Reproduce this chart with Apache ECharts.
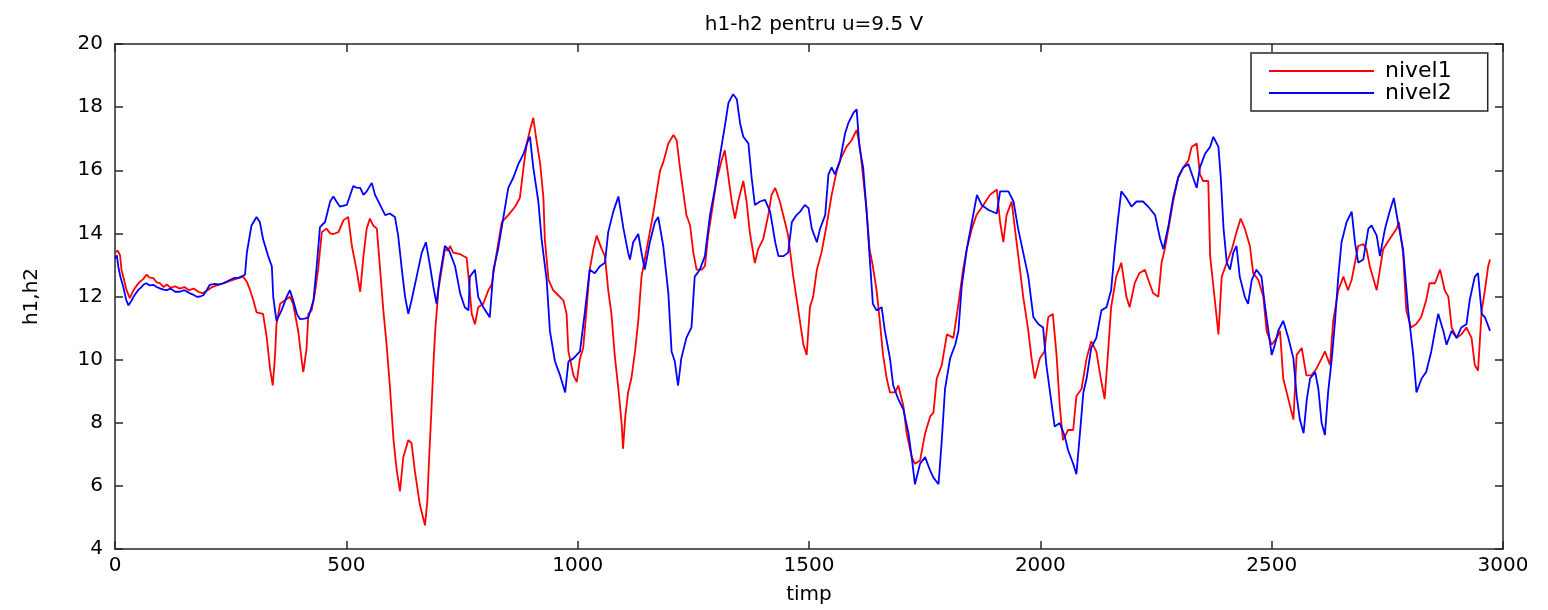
<!DOCTYPE html>
<html>
<head>
<meta charset="utf-8">
<script src="https://cdn.jsdelivr.net/npm/echarts@6/dist/echarts.min.js"></script>
<style>
html,body{margin:0;padding:0;background:#fff;}
#chart{width:1548px;height:610px;}
</style>
</head>
<body>
<div id="chart"></div>
<script>
const titleText = 'h1-h2 pentru u=9.5 V';
const xName = 'timp';
const yName = 'h1,h2';
const seriesNames = ['nivel1', 'nivel2'];
const xTicks = {min: 0, max: 3000, interval: 500};
const yTicks = {min: 4, max: 20, interval: 2};

const nivel1 = [
[0,13.4],[6,13.45],[11,13.3],[14,12.85],[20,12.5],[25,12.2],[32,11.95],[40,12.2],[47,12.35],[54,12.47],[61,12.55],[68,12.69],[75,12.6],[83,12.58],[90,12.45],[97,12.42],[105,12.3],[112,12.38],[120,12.28],[130,12.32],[140,12.25],[150,12.3],[160,12.2],[170,12.25],[180,12.15],[190,12.1],[200,12.2],[210,12.3],[220,12.35],[230,12.4],[240,12.45],[250,12.5],[260,12.55],[270,12.6],[277,12.63],[285,12.47],[292,12.2],[299,11.88],[306,11.5],[320,11.45],[328,10.7],[335,9.72],[341,9.18],[346,10.15],[349,11.12],[357,11.77],[367,11.88],[378,11.99],[385,11.77],[396,10.9],[403,10.04],[407,9.6],[414,10.35],[418,11.45],[425,11.56],[432,12.1],[439,12.85],[447,14.04],[457,14.15],[465,14.0],[472,13.98],[483,14.04],[494,14.42],[504,14.52],[512,13.6],[522,12.85],[530,12.15],[537,13.28],[544,14.15],[551,14.47],[558,14.25],[566,14.15],[573,12.85],[580,11.56],[587,10.47],[594,9.18],[602,7.45],[609,6.48],[616,5.83],[623,6.9],[634,7.45],[641,7.35],[648,6.48],[659,5.4],[670,4.75],[675,5.5],[679,6.9],[684,8.42],[688,9.77],[692,10.9],[699,12.2],[706,12.85],[713,13.5],[720,13.45],
[724,13.6],[731,13.39],[746,13.34],[760,13.23],[764,12.63],[771,11.45],[778,11.12],[785,11.66],[796,11.77],[807,12.2],[814,12.37],[825,13.39],[836,14.36],[850,14.58],[865,14.85],[875,15.12],[883,16.09],[890,16.85],[897,17.28],[904,17.66],[911,16.95],[919,16.2],[926,15.12],[929,13.82],[937,12.53],[947,12.2],[958,12.04],[969,11.88],[976,11.45],[980,10.26],[991,9.5],[998,9.29],[1005,10.04],[1012,10.37],[1019,11.56],[1026,12.85],[1034,13.5],[1041,13.93],[1052,13.5],[1059,13.28],[1066,12.2],[1073,11.45],[1080,10.15],[1088,9.07],[1095,7.99],[1098,7.18],[1103,8.2],[1109,8.96],[1116,9.4],[1124,10.26],[1131,11.23],[1138,12.63],[1149,13.5],[1156,14.04],[1164,14.69],[1171,15.33],[1178,15.98],[1185,16.25],[1196,16.85],[1207,17.12],[1214,16.95],[1221,16.09],[1228,15.33],[1235,14.58],[1243,14.25],[1250,13.39],[1257,12.85],[1268,12.85],[1275,12.96],[1282,13.93],[1290,14.69],[1300,15.66],[1311,16.31],[1318,16.63],[1326,15.77],[1333,15.01],[1340,14.47],[1347,15.01],[1358,15.66],[1365,15.01],[1372,14.04],[1383,13.06],[1390,13.5],[1401,13.82],[1412,14.58],[1419,15.22],[1427,15.44],[1437,15.01],[1448,14.36],[1455,13.93],[1466,12.63],[1477,11.56],
[1488,10.47],[1495,10.15],[1502,11.66],[1509,11.99],[1517,12.85],[1527,13.39],[1538,14.25],[1549,15.22],[1560,15.98],[1570,16.41],[1581,16.74],[1592,16.95],[1603,17.28],[1610,16.74],[1617,15.77],[1624,14.8],[1631,13.5],[1638,12.96],[1646,12.2],[1653,11.23],[1660,10.15],[1668,9.4],[1675,8.96],[1686,8.96],[1693,9.18],[1704,8.53],[1711,7.67],[1722,6.91],[1729,6.7],[1740,6.8],[1751,7.67],[1762,8.2],[1769,8.32],[1776,9.4],[1787,9.83],[1798,10.8],[1812,10.69],[1823,11.77],[1833,12.85],[1841,13.5],[1852,14.15],[1862,14.58],[1877,14.9],[1891,15.22],[1906,15.39],[1913,14.36],[1920,13.72],[1927,14.58],[1938,15.01],[1945,14.15],[1956,12.85],[1963,11.99],[1974,10.91],[1981,10.04],[1988,9.4],[1999,10.04],[2009,10.26],[2017,11.34],[2027,11.45],[2035,10.15],[2042,8.53],[2049,7.45],[2060,7.77],[2071,7.77],[2078,8.85],[2089,9.07],[2100,10.04],[2110,10.58],[2121,10.26],[2132,9.29],[2139,8.75],[2146,10.15],[2153,11.66],[2164,12.63],[2175,13.07],[2186,11.99],[2193,11.66],[2204,12.42],[2214,12.74],[2226,12.85],[2236,12.42],
[2244,12.1],[2255,11.99],[2262,13.07],[2269,13.5],[2277,14.15],[2287,15.01],[2298,15.77],[2309,16.09],[2320,16.31],[2327,16.74],[2338,16.85],[2345,15.87],[2352,15.66],[2363,15.66],[2367,13.28],[2378,11.77],[2385,10.8],[2392,12.63],[2403,13.07],[2414,13.5],[2424,14.04],[2433,14.47],[2442,14.15],[2453,13.6],[2460,12.74],[2471,12.53],[2482,11.99],[2489,10.91],[2500,10.47],[2511,10.69],[2518,10.91],[2525,9.4],[2536,8.75],[2547,8.1],[2554,10.15],[2565,10.37],[2575,9.5],[2586,9.5],[2597,9.72],[2608,10.04],[2615,10.26],[2626,9.83],[2633,11.23],[2644,12.2],[2655,12.63],[2665,12.2],[2673,12.53],[2680,13.07],[2687,13.6],[2698,13.66],[2705,13.5],[2712,12.96],[2727,12.2],[2734,12.85],[2741,13.5],[2755,13.82],[2770,14.15],[2775,14.36],[2784,13.39],[2791,11.56],[2801,11.02],[2812,11.12],[2823,11.34],[2834,11.88],[2841,12.42],[2853,12.42],[2864,12.85],[2874,12.2],[2882,11.99],[2889,11.02],[2900,10.69],[2910,10.8],[2921,11.02],[2932,10.69],[2939,9.83],[2946,9.65],[2954,11.56],[2961,12.2],[2968,12.96],[2972,13.17]
];

const nivel2 = [
[0,13.2],[4,13.3],[7,12.96],[12,12.6],[18,12.3],[24,11.9],[29,11.72],[35,11.85],[40,11.99],[45,12.1],[50,12.2],[57,12.3],[62,12.38],[68,12.42],[75,12.35],[83,12.37],[90,12.3],[97,12.26],[105,12.22],[112,12.2],[120,12.25],[130,12.15],[140,12.15],[150,12.2],[162,12.1],[170,12.05],[177,11.99],[184,12.0],[191,12.04],[198,12.2],[205,12.37],[215,12.4],[225,12.38],[234,12.42],[245,12.5],[256,12.58],[268,12.6],[281,12.69],[285,13.39],[295,14.25],[306,14.52],[313,14.36],[320,13.82],[331,13.28],[339,12.96],[342,11.99],[349,11.23],[360,11.56],[371,11.99],[378,12.2],[385,11.88],[393,11.45],[400,11.28],[410,11.3],[418,11.34],[429,11.88],[436,12.96],[443,14.2],[454,14.36],[465,15.01],[472,15.17],[479,15.0],[486,14.85],[501,14.9],[508,15.2],[515,15.5],[522,15.45],[530,15.44],[537,15.22],[544,15.33],[555,15.6],[562,15.22],[573,14.9],[584,14.58],[594,14.63],[605,14.52],[612,13.93],[620,12.85],[627,11.99],[634,11.45],[641,11.88],[652,12.63],[663,13.39],[672,13.72],[681,12.96],[688,12.31],[695,11.77],[702,12.63],[713,13.6],[720,13.5],
[724,13.39],[735,12.96],[746,12.1],[756,11.66],[764,11.56],[767,12.63],[778,12.85],[785,11.99],[796,11.66],[810,11.34],[818,12.85],[828,13.5],[839,14.47],[850,15.44],[861,15.77],[872,16.2],[883,16.52],[893,16.95],[897,17.06],[904,16.09],[915,15.01],[922,13.82],[933,12.53],[940,10.91],[951,9.94],[962,9.5],[973,8.96],[980,9.94],[991,10.04],[1005,10.26],[1016,11.56],[1026,12.85],[1037,12.74],[1048,12.96],[1059,13.07],[1066,14.04],[1077,14.69],[1088,15.17],[1099,14.15],[1109,13.39],[1113,13.17],[1120,13.72],[1131,13.98],[1138,13.39],[1145,12.85],[1156,13.72],[1167,14.36],[1174,14.52],[1185,13.6],[1196,12.1],[1203,10.26],[1210,9.94],[1217,9.18],[1224,10.04],[1235,10.69],[1246,11.02],[1253,12.63],[1264,12.85],[1275,13.28],[1286,14.58],[1297,15.44],[1307,16.41],[1318,17.39],[1326,18.14],[1336,18.41],[1344,18.25],[1351,17.49],[1358,17.06],[1369,16.85],[1376,15.77],[1383,14.9],[1394,15.01],[1405,15.06],[1416,14.69],[1427,13.72],[1434,13.28],[1445,13.28],[1455,13.39],[1463,14.36],[1473,14.58],
[1481,14.69],[1491,14.9],[1499,14.8],[1506,14.15],[1517,13.72],[1524,14.15],[1535,14.58],[1542,15.87],[1549,16.09],[1556,15.87],[1567,16.31],[1578,17.17],[1585,17.49],[1596,17.82],[1603,17.93],[1609,16.74],[1617,16.09],[1624,14.8],[1631,13.28],[1638,11.77],[1646,11.56],[1657,11.66],[1664,10.91],[1675,10.04],[1682,9.18],[1693,8.75],[1704,8.42],[1715,7.67],[1722,6.91],[1729,6.05],[1740,6.7],[1751,6.91],[1762,6.48],[1769,6.26],[1780,6.05],[1787,7.45],[1794,9.07],[1805,10.04],[1816,10.47],[1823,10.91],[1830,12.31],[1841,13.5],[1852,14.36],[1863,15.22],[1873,14.9],[1888,14.74],[1906,14.63],[1913,15.33],[1931,15.33],[1942,15.01],[1952,14.15],[1963,13.39],[1974,12.63],[1985,11.34],[1996,11.12],[2006,11.02],[2013,9.83],[2021,8.96],[2031,7.88],[2042,7.99],[2053,7.56],[2060,7.13],[2071,6.7],[2078,6.37],[2085,7.56],[2093,8.96],[2100,9.4],[2110,10.37],[2121,10.69],[2132,11.56],[2143,11.66],[2153,12.2],[2161,13.5],[2168,14.47],[2175,15.33],[2186,15.12],[2197,14.85],[2208,15.01],[2222,15.01],[2233,14.85],
[2237,14.8],[2248,14.58],[2259,13.82],[2266,13.5],[2277,14.25],[2287,15.12],[2298,15.77],[2309,16.09],[2320,16.2],[2330,15.77],[2338,15.44],[2345,16.09],[2356,16.52],[2367,16.74],[2374,17.06],[2385,16.74],[2390,15.77],[2396,14.15],[2403,13.07],[2410,12.85],[2417,13.39],[2424,13.6],[2431,12.63],[2442,11.99],[2449,11.77],[2457,12.53],[2467,12.85],[2478,12.63],[2485,11.77],[2493,10.91],[2500,10.15],[2507,10.47],[2514,10.91],[2525,11.23],[2536,10.69],[2547,10.04],[2554,8.85],[2561,8.1],[2569,7.67],[2576,8.75],[2583,9.4],[2594,9.61],[2601,9.07],[2608,7.99],[2615,7.61],[2622,8.96],[2630,10.04],[2637,11.23],[2644,12.63],[2651,13.72],[2662,14.36],[2673,14.69],[2680,13.72],[2687,13.07],[2698,13.17],[2709,14.15],[2716,14.25],[2727,13.93],[2734,13.28],[2745,14.15],[2755,14.69],[2764,15.12],[2773,14.36],[2784,13.5],[2795,11.56],[2806,10.15],[2813,8.96],[2824,9.4],[2834,9.61],[2845,10.26],[2853,10.91],[2860,11.45],[2871,10.91],[2878,10.47],[2889,10.91],[2900,10.69],[2910,11.02],[2921,11.12],[2928,11.88],[2939,12.63],[2946,12.74],[2954,11.45],[2961,11.34],[2972,10.91]
];

const FONT = 'DejaVu Sans';
const AX = '#262626';
const chart = echarts.init(document.getElementById('chart'), null, {renderer: 'canvas'});

function xAx(pos, showLabel) {
  return {
    type: 'value', position: pos, min: xTicks.min, max: xTicks.max, interval: xTicks.interval,
    axisLine: {show: true, onZero: false, lineStyle: {color: AX, width: 1.5}},
    axisTick: {show: true, inside: true, length: 8, lineStyle: {color: AX, width: 1.5}},
    axisLabel: {show: showLabel, color: '#000', fontFamily: FONT, fontSize: 20, margin: 7,
                formatter: function (v) { return String(v); }},
    splitLine: {show: false},
    name: showLabel ? xName : '', nameLocation: 'middle', nameGap: 36,
    nameTextStyle: {color: '#000', fontFamily: FONT, fontSize: 20}
  };
}
function yAx(pos, showLabel) {
  return {
    type: 'value', position: pos, min: yTicks.min, max: yTicks.max, interval: yTicks.interval,
    axisLine: {show: true, onZero: false, lineStyle: {color: AX, width: 1.5}},
    axisTick: {show: true, inside: true, length: 8, lineStyle: {color: AX, width: 1.5}},
    axisLabel: {show: showLabel, color: '#000', fontFamily: FONT, fontSize: 20, margin: 12,
                formatter: function (v) { return String(v); }},
    splitLine: {show: false},
    name: showLabel ? yName : '', nameLocation: 'middle', nameGap: 73, nameRotate: 90,
    nameTextStyle: {color: '#000', fontFamily: FONT, fontSize: 20}
  };
}

chart.setOption({
  animation: false,
  backgroundColor: '#fff',
  title: {
    text: titleText, left: 809, top: 10, textAlign: 'center',
    textStyle: {color: '#000', fontFamily: FONT, fontSize: 20, fontWeight: 'normal'}
  },
  grid: {left: 115, right: 45, top: 44, bottom: 57, containLabel: false},
  xAxis: [xAx('bottom', true), xAx('top', false)],
  yAxis: [yAx('left', true), yAx('right', false)],
  legend: {
    orient: 'vertical', left: 1251, top: 53,
    backgroundColor: '#fff', borderColor: AX, borderWidth: 1.5,
    padding: [7, 36, 7, 18], itemGap: 0, itemWidth: 105, itemHeight: 2,
    icon: 'rect',
    textStyle: {color: '#000', fontFamily: FONT, fontSize: 22, padding: [0, 0, 0, 6]},
    data: seriesNames
  },
  series: [
    {name: seriesNames[0], type: 'line', data: nivel1, xAxisIndex: 0, yAxisIndex: 0,
     showSymbol: false, symbol: 'none', color: '#ff0000', lineStyle: {color: '#ff0000', width: 1.8}, z: 2},
    {name: seriesNames[1], type: 'line', data: nivel2, xAxisIndex: 0, yAxisIndex: 0,
     showSymbol: false, symbol: 'none', color: '#0000ff', lineStyle: {color: '#0000ff', width: 1.8}, z: 3}
  ]
});
</script>
</body>
</html>
